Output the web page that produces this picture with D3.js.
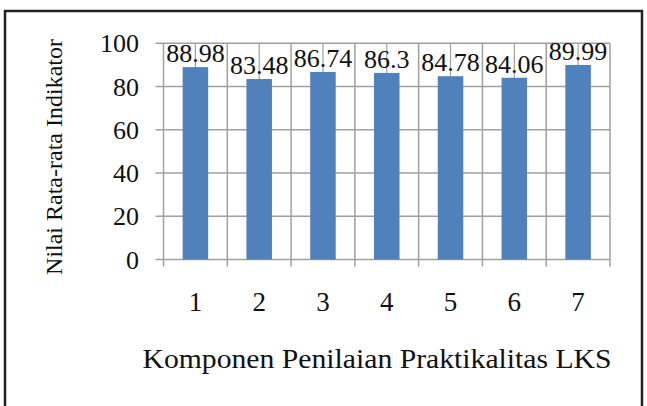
<!DOCTYPE html>
<html>
<head>
<meta charset="utf-8">
<script src="https://cdn.jsdelivr.net/npm/d3@7"></script>
<style>
  body { margin: 0; background: #fff; }
  text { font-family: "Liberation Serif", "Times New Roman", "DejaVu Serif", serif; fill: #111; }
</style>
</head>
<body>
<div id="chart"></div>
<script>
const width = 647;
const height = 406;
const margin = { top: 43.3, bottom: 146.5, left: 163.5, right: 37 };

const categories = ["1", "2", "3", "4", "5", "6", "7"];
const values = [88.98, 83.48, 86.74, 86.3, 84.78, 84.06, 89.99];
const yTicks = [0, 20, 40, 60, 80, 100];

const svg = d3.select('#chart')
    .append('svg')
    .attr('width', width)
    .attr('height', height);

// outer frame (runs past the bottom edge)
svg.append('rect')
    .attr('x', 5)
    .attr('y', 11)
    .attr('width', 637)
    .attr('height', 420)
    .attr('fill', 'none')
    .attr('stroke', '#222')
    .attr('stroke-width', 2.5);

const x = d3.scaleBand()
    .domain(categories)
    .range([margin.left, width - margin.right])
    .paddingInner(0.6)
    .paddingOuter(0.3);

const xGrid = d3.scaleBand()
    .domain(categories)
    .range([margin.left, width - margin.right]);

const y = d3.scaleLinear()
    .domain([0, 100])
    .range([height - margin.bottom, margin.top]);

const gridColor = '#a0a0a0';

// horizontal grid + left ticks
svg.append('g')
    .selectAll('line')
    .data(yTicks)
    .join('line')
        .attr('x1', margin.left - 8)
        .attr('x2', width - margin.right)
        .attr('y1', d => y(d))
        .attr('y2', d => y(d))
        .attr('stroke', gridColor)
        .attr('stroke-width', 1.5);

// vertical grid at category boundaries + bottom ticks
const boundaries = categories.map(c => xGrid(c)).concat([width - margin.right]);
svg.append('g')
    .selectAll('line')
    .data(boundaries)
    .join('line')
        .attr('x1', d => d)
        .attr('x2', d => d)
        .attr('y1', margin.top)
        .attr('y2', y(0) + 7)
        .attr('stroke', gridColor)
        .attr('stroke-width', 1.5);

// vertical grid at category centers (mostly hidden behind bars)
svg.append('g')
    .selectAll('line')
    .data(categories)
    .join('line')
        .attr('x1', d => xGrid(d) + xGrid.bandwidth() / 2)
        .attr('x2', d => xGrid(d) + xGrid.bandwidth() / 2)
        .attr('y1', margin.top)
        .attr('y2', y(0))
        .attr('stroke', gridColor)
        .attr('stroke-width', 1.2);

// bars
svg.append('g')
    .attr('fill', '#4f81bd')
    .selectAll('rect')
    .data(values)
    .join('rect')
        .attr('x', (d, i) => x(categories[i]))
        .attr('y', d => y(d))
        .attr('width', x.bandwidth())
        .attr('height', d => y(0) - y(d));

// value labels
svg.append('g')
    .selectAll('text')
    .data(values)
    .join('text')
        .attr('x', (d, i) => x(categories[i]) + x.bandwidth() / 2)
        .attr('y', d => y(d) - 5)
        .attr('text-anchor', 'middle')
        .attr('font-size', '26px')
        .text(d => d);

// y tick labels
svg.append('g')
    .selectAll('text')
    .data(yTicks)
    .join('text')
        .attr('x', 139)
        .attr('y', d => y(d))
        .attr('dy', '0.35em')
        .attr('text-anchor', 'end')
        .attr('font-size', '26px')
        .text(d => d);

// x tick labels
svg.append('g')
    .selectAll('text')
    .data(categories)
    .join('text')
        .attr('x', d => xGrid(d) + xGrid.bandwidth() / 2)
        .attr('y', 311)
        .attr('text-anchor', 'middle')
        .attr('font-size', '27px')
        .text(d => d);

// axis titles
svg.append('text')
    .attr('x', 377)
    .attr('y', 368)
    .attr('text-anchor', 'middle')
    .attr('font-size', '27px')
    .attr('textLength', 469)
    .attr('lengthAdjust', 'spacingAndGlyphs')
    .text('Komponen Penilaian Praktikalitas LKS');

svg.append('text')
    .attr('transform', 'translate(62,157) rotate(-90)')
    .attr('text-anchor', 'middle')
    .attr('font-size', '24px')
    .text('Nilai Rata-rata Indikator');
</script>
</body>
</html>
